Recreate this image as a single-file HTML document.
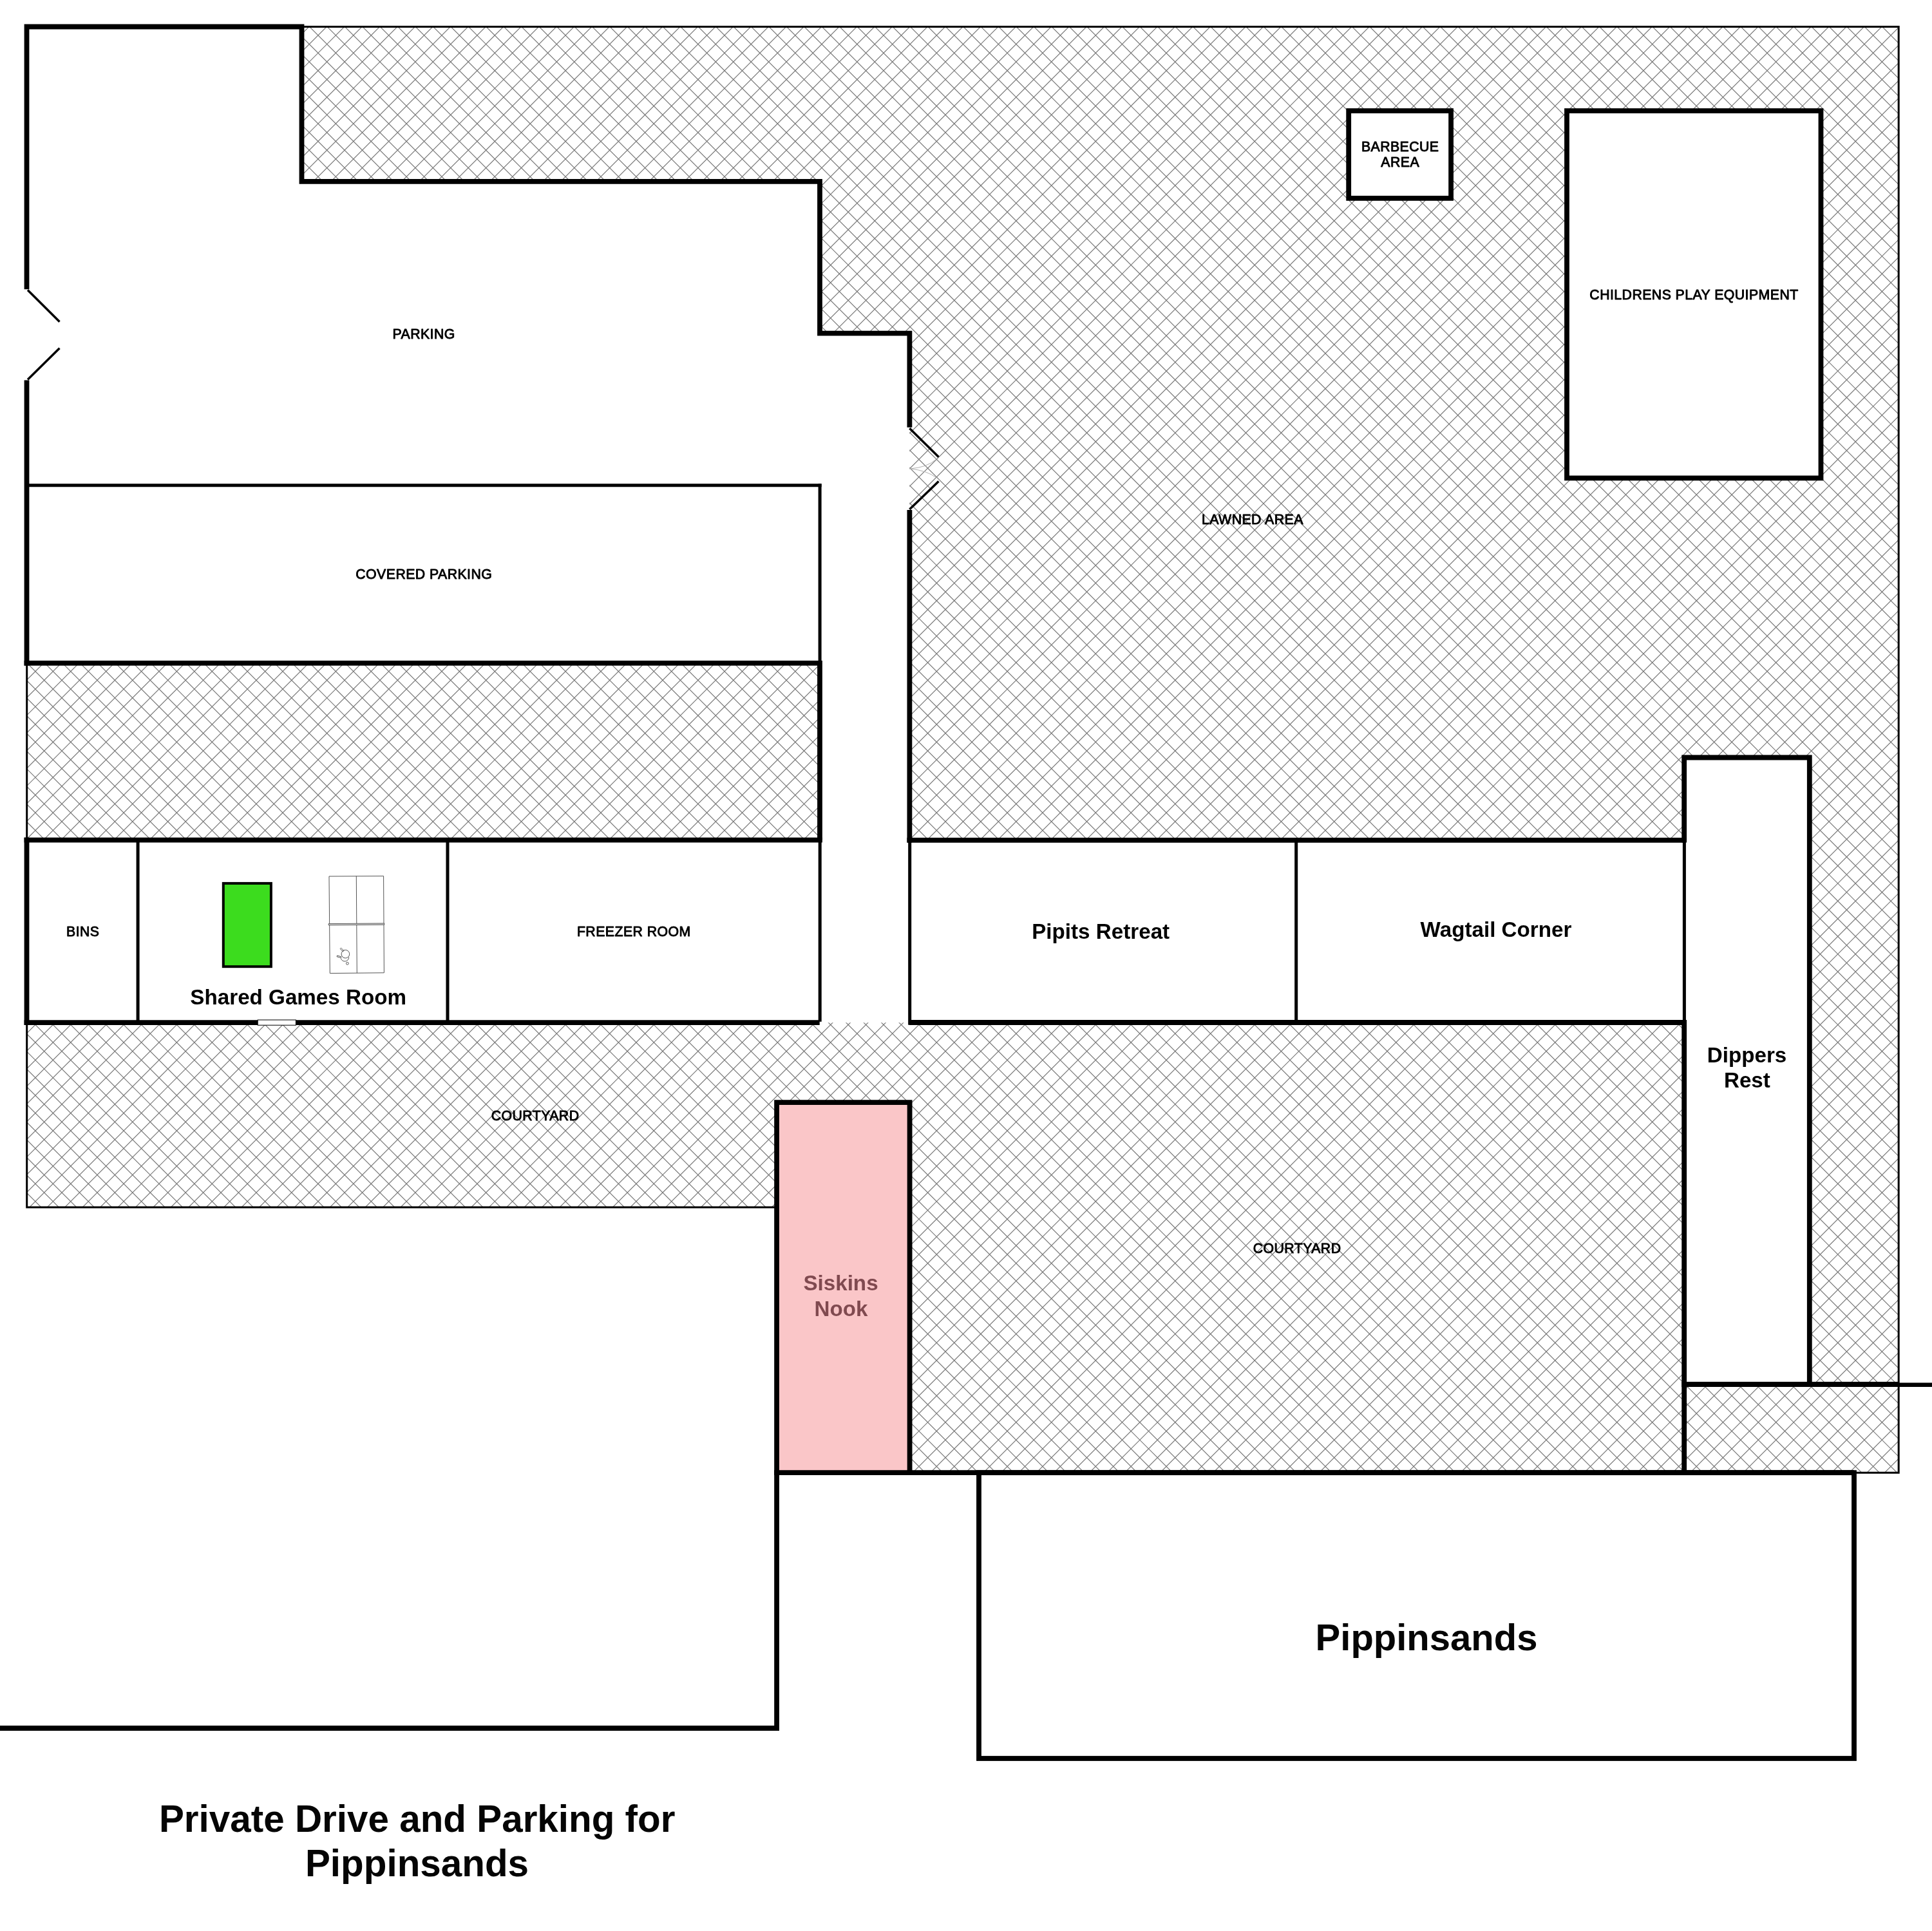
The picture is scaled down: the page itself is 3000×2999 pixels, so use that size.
<!DOCTYPE html>
<html lang="en"><head><meta charset="utf-8"><title>Site plan</title>
<style>html,body{margin:0;padding:0;background:#fff}svg{display:block}text{font-family:"Liberation Sans",sans-serif;fill:#000;text-anchor:middle}.s{font-size:21.3px;letter-spacing:.43px;stroke:#000;stroke-width:.9px;stroke-linejoin:round}.b{font-size:33.2px;font-weight:bold}.h{font-size:58px;font-weight:bold;fill:#04040c}.w8{stroke:#000;stroke-width:7.8;fill:none;stroke-linecap:butt;stroke-linejoin:miter}.w5{stroke:#000;stroke-width:5;fill:none}.w4{stroke:#000;stroke-width:3.5;fill:none}.w3{stroke:#000;stroke-width:3;fill:none}</style></head><body>
<svg width="3000" height="2999" viewBox="0 0 3000 2999">
<rect width="3000" height="2999" fill="#fff"/>
<defs><clipPath id="hc">
<polygon points="468.5,41.5 2948.2,41.5 2948.2,2287.2 1412.4,2287.2 1412.4,1712.2 1206.1,1712.2 1206.1,1875.0 41.7,1875.0 41.7,1588.2 2615.2,1588.2 2615.2,2150.0 2809.8,2150.0 2809.8,1176.5 2615.2,1176.5 2615.2,1304.6 1412.4,1304.6 1412.4,517.6 1273.0,517.6 1273.0,281.8 468.5,281.8"/>
<polygon points="41.7,1029.8 1273.0,1029.8 1273.0,1304.6 41.7,1304.6"/>
</clipPath></defs>
<g clip-path="url(#hc)" stroke="#7a7a7a" stroke-width="1.2" fill="none"><path d="M0.00 0.00L0.00 0.00M27.44 0.00L0.00 27.44M54.88 0.00L0.00 54.88M82.32 0.00L0.00 82.32M109.76 0.00L0.00 109.76M137.20 0.00L0.00 137.20M164.64 0.00L0.00 164.64M192.08 0.00L0.00 192.08M219.52 0.00L0.00 219.52M246.96 0.00L0.00 246.96M274.40 0.00L0.00 274.40M301.84 0.00L0.00 301.84M329.28 0.00L0.00 329.28M356.72 0.00L0.00 356.72M384.16 0.00L0.00 384.16M411.60 0.00L0.00 411.60M439.04 0.00L0.00 439.04M466.48 0.00L0.00 466.48M493.92 0.00L0.00 493.92M521.36 0.00L0.00 521.36M548.80 0.00L0.00 548.80M576.24 0.00L0.00 576.24M603.68 0.00L0.00 603.68M631.12 0.00L0.00 631.12M658.56 0.00L0.00 658.56M686.00 0.00L0.00 686.00M713.44 0.00L0.00 713.44M740.88 0.00L0.00 740.88M768.32 0.00L0.00 768.32M795.76 0.00L0.00 795.76M823.20 0.00L0.00 823.20M850.64 0.00L0.00 850.64M878.08 0.00L0.00 878.08M905.52 0.00L0.00 905.52M932.96 0.00L0.00 932.96M960.40 0.00L0.00 960.40M987.84 0.00L0.00 987.84M1015.28 0.00L0.00 1015.28M1042.72 0.00L0.00 1042.72M1070.16 0.00L0.00 1070.16M1097.60 0.00L0.00 1097.60M1125.04 0.00L0.00 1125.04M1152.48 0.00L0.00 1152.48M1179.92 0.00L0.00 1179.92M1207.36 0.00L0.00 1207.36M1234.80 0.00L0.00 1234.80M1262.24 0.00L0.00 1262.24M1289.68 0.00L0.00 1289.68M1317.12 0.00L0.00 1317.12M1344.56 0.00L0.00 1344.56M1372.00 0.00L0.00 1372.00M1399.44 0.00L0.00 1399.44M1426.88 0.00L0.00 1426.88M1454.32 0.00L0.00 1454.32M1481.76 0.00L0.00 1481.76M1509.20 0.00L0.00 1509.20M1536.64 0.00L0.00 1536.64M1564.08 0.00L0.00 1564.08M1591.52 0.00L0.00 1591.52M1618.96 0.00L0.00 1618.96M1646.40 0.00L0.00 1646.40M1673.84 0.00L0.00 1673.84M1701.28 0.00L0.00 1701.28M1728.72 0.00L0.00 1728.72M1756.16 0.00L0.00 1756.16M1783.60 0.00L0.00 1783.60M1811.04 0.00L0.00 1811.04M1838.48 0.00L0.00 1838.48M1865.92 0.00L0.00 1865.92M1893.36 0.00L0.00 1893.36M1920.80 0.00L0.00 1920.80M1948.24 0.00L0.00 1948.24M1975.68 0.00L0.00 1975.68M2003.12 0.00L0.00 2003.12M2030.56 0.00L0.00 2030.56M2058.00 0.00L0.00 2058.00M2085.44 0.00L0.00 2085.44M2112.88 0.00L0.00 2112.88M2140.32 0.00L0.00 2140.32M2167.76 0.00L0.00 2167.76M2195.20 0.00L0.00 2195.20M2222.64 0.00L0.00 2222.64M2250.08 0.00L0.00 2250.08M2277.52 0.00L0.00 2277.52M2304.96 0.00L0.00 2304.96M2332.40 0.00L0.00 2332.40M2359.84 0.00L0.00 2359.84M2387.28 0.00L0.00 2387.28M2414.72 0.00L0.00 2414.72M2442.16 0.00L0.00 2442.16M2469.60 0.00L0.00 2469.60M2497.04 0.00L0.00 2497.04M2524.48 0.00L0.00 2524.48M2551.92 0.00L0.00 2551.92M2579.36 0.00L0.00 2579.36M2606.80 0.00L0.00 2606.80M2634.24 0.00L0.00 2634.24M2661.68 0.00L0.00 2661.68M2689.12 0.00L0.00 2689.12M2716.56 0.00L0.00 2716.56M2744.00 0.00L0.00 2744.00M2771.44 0.00L0.00 2771.44M2798.88 0.00L0.00 2798.88M2826.32 0.00L0.00 2826.32M2853.76 0.00L0.00 2853.76M2881.20 0.00L0.00 2881.20M2908.64 0.00L0.00 2908.64M2936.08 0.00L0.00 2936.08M2963.52 0.00L0.00 2963.52M2990.96 0.00L0.00 2990.96M3000.00 18.40L19.40 2999.00M3000.00 45.84L46.84 2999.00M3000.00 73.28L74.28 2999.00M3000.00 100.72L101.72 2999.00M3000.00 128.16L129.16 2999.00M3000.00 155.60L156.60 2999.00M3000.00 183.04L184.04 2999.00M3000.00 210.48L211.48 2999.00M3000.00 237.92L238.92 2999.00M3000.00 265.36L266.36 2999.00M3000.00 292.80L293.80 2999.00M3000.00 320.24L321.24 2999.00M3000.00 347.68L348.68 2999.00M3000.00 375.12L376.12 2999.00M3000.00 402.56L403.56 2999.00M3000.00 430.00L431.00 2999.00M3000.00 457.44L458.44 2999.00M3000.00 484.88L485.88 2999.00M3000.00 512.32L513.32 2999.00M3000.00 539.76L540.76 2999.00M3000.00 567.20L568.20 2999.00M3000.00 594.64L595.64 2999.00M3000.00 622.08L623.08 2999.00M3000.00 649.52L650.52 2999.00M3000.00 676.96L677.96 2999.00M3000.00 704.40L705.40 2999.00M3000.00 731.84L732.84 2999.00M3000.00 759.28L760.28 2999.00M3000.00 786.72L787.72 2999.00M3000.00 814.16L815.16 2999.00M3000.00 841.60L842.60 2999.00M3000.00 869.04L870.04 2999.00M3000.00 896.48L897.48 2999.00M3000.00 923.92L924.92 2999.00M3000.00 951.36L952.36 2999.00M3000.00 978.80L979.80 2999.00M3000.00 1006.24L1007.24 2999.00M3000.00 1033.68L1034.68 2999.00M3000.00 1061.12L1062.12 2999.00M3000.00 1088.56L1089.56 2999.00M3000.00 1116.00L1117.00 2999.00M3000.00 1143.44L1144.44 2999.00M3000.00 1170.88L1171.88 2999.00M3000.00 1198.32L1199.32 2999.00M3000.00 1225.76L1226.76 2999.00M3000.00 1253.20L1254.20 2999.00M3000.00 1280.64L1281.64 2999.00M3000.00 1308.08L1309.08 2999.00M3000.00 1335.52L1336.52 2999.00M3000.00 1362.96L1363.96 2999.00M3000.00 1390.40L1391.40 2999.00M3000.00 1417.84L1418.84 2999.00M3000.00 1445.28L1446.28 2999.00M3000.00 1472.72L1473.72 2999.00M3000.00 1500.16L1501.16 2999.00M3000.00 1527.60L1528.60 2999.00M3000.00 1555.04L1556.04 2999.00M3000.00 1582.48L1583.48 2999.00M3000.00 1609.92L1610.92 2999.00M3000.00 1637.36L1638.36 2999.00M3000.00 1664.80L1665.80 2999.00M3000.00 1692.24L1693.24 2999.00M3000.00 1719.68L1720.68 2999.00M3000.00 1747.12L1748.12 2999.00M3000.00 1774.56L1775.56 2999.00M3000.00 1802.00L1803.00 2999.00M3000.00 1829.44L1830.44 2999.00M3000.00 1856.88L1857.88 2999.00M3000.00 1884.32L1885.32 2999.00M3000.00 1911.76L1912.76 2999.00M3000.00 1939.20L1940.20 2999.00M3000.00 1966.64L1967.64 2999.00M3000.00 1994.08L1995.08 2999.00M3000.00 2021.52L2022.52 2999.00M3000.00 2048.96L2049.96 2999.00M3000.00 2076.40L2077.40 2999.00M3000.00 2103.84L2104.84 2999.00M3000.00 2131.28L2132.28 2999.00M3000.00 2158.72L2159.72 2999.00M3000.00 2186.16L2187.16 2999.00M3000.00 2213.60L2214.60 2999.00M3000.00 2241.04L2242.04 2999.00M3000.00 2268.48L2269.48 2999.00M3000.00 2295.92L2296.92 2999.00M3000.00 2323.36L2324.36 2999.00M3000.00 2350.80L2351.80 2999.00M3000.00 2378.24L2379.24 2999.00M3000.00 2405.68L2406.68 2999.00M3000.00 2433.12L2434.12 2999.00M3000.00 2460.56L2461.56 2999.00M3000.00 2488.00L2489.00 2999.00M3000.00 2515.44L2516.44 2999.00M3000.00 2542.88L2543.88 2999.00M3000.00 2570.32L2571.32 2999.00M3000.00 2597.76L2598.76 2999.00M3000.00 2625.20L2626.20 2999.00M3000.00 2652.64L2653.64 2999.00M3000.00 2680.08L2681.08 2999.00M3000.00 2707.52L2708.52 2999.00M3000.00 2734.96L2735.96 2999.00M3000.00 2762.40L2763.40 2999.00M3000.00 2789.84L2790.84 2999.00M3000.00 2817.28L2818.28 2999.00M3000.00 2844.72L2845.72 2999.00M3000.00 2872.16L2873.16 2999.00M3000.00 2899.60L2900.60 2999.00M3000.00 2927.04L2928.04 2999.00M3000.00 2954.48L2955.48 2999.00M3000.00 2981.92L2982.92 2999.00"/><path d="M0.00 2990.96L8.04 2999.00M0.00 2963.52L35.48 2999.00M0.00 2936.08L62.92 2999.00M0.00 2908.64L90.36 2999.00M0.00 2881.20L117.80 2999.00M0.00 2853.76L145.24 2999.00M0.00 2826.32L172.68 2999.00M0.00 2798.88L200.12 2999.00M0.00 2771.44L227.56 2999.00M0.00 2744.00L255.00 2999.00M0.00 2716.56L282.44 2999.00M0.00 2689.12L309.88 2999.00M0.00 2661.68L337.32 2999.00M0.00 2634.24L364.76 2999.00M0.00 2606.80L392.20 2999.00M0.00 2579.36L419.64 2999.00M0.00 2551.92L447.08 2999.00M0.00 2524.48L474.52 2999.00M0.00 2497.04L501.96 2999.00M0.00 2469.60L529.40 2999.00M0.00 2442.16L556.84 2999.00M0.00 2414.72L584.28 2999.00M0.00 2387.28L611.72 2999.00M0.00 2359.84L639.16 2999.00M0.00 2332.40L666.60 2999.00M0.00 2304.96L694.04 2999.00M0.00 2277.52L721.48 2999.00M0.00 2250.08L748.92 2999.00M0.00 2222.64L776.36 2999.00M0.00 2195.20L803.80 2999.00M0.00 2167.76L831.24 2999.00M0.00 2140.32L858.68 2999.00M0.00 2112.88L886.12 2999.00M0.00 2085.44L913.56 2999.00M0.00 2058.00L941.00 2999.00M0.00 2030.56L968.44 2999.00M0.00 2003.12L995.88 2999.00M0.00 1975.68L1023.32 2999.00M0.00 1948.24L1050.76 2999.00M0.00 1920.80L1078.20 2999.00M0.00 1893.36L1105.64 2999.00M0.00 1865.92L1133.08 2999.00M0.00 1838.48L1160.52 2999.00M0.00 1811.04L1187.96 2999.00M0.00 1783.60L1215.40 2999.00M0.00 1756.16L1242.84 2999.00M0.00 1728.72L1270.28 2999.00M0.00 1701.28L1297.72 2999.00M0.00 1673.84L1325.16 2999.00M0.00 1646.40L1352.60 2999.00M0.00 1618.96L1380.04 2999.00M0.00 1591.52L1407.48 2999.00M0.00 1564.08L1434.92 2999.00M0.00 1536.64L1462.36 2999.00M0.00 1509.20L1489.80 2999.00M0.00 1481.76L1517.24 2999.00M0.00 1454.32L1544.68 2999.00M0.00 1426.88L1572.12 2999.00M0.00 1399.44L1599.56 2999.00M0.00 1372.00L1627.00 2999.00M0.00 1344.56L1654.44 2999.00M0.00 1317.12L1681.88 2999.00M0.00 1289.68L1709.32 2999.00M0.00 1262.24L1736.76 2999.00M0.00 1234.80L1764.20 2999.00M0.00 1207.36L1791.64 2999.00M0.00 1179.92L1819.08 2999.00M0.00 1152.48L1846.52 2999.00M0.00 1125.04L1873.96 2999.00M0.00 1097.60L1901.40 2999.00M0.00 1070.16L1928.84 2999.00M0.00 1042.72L1956.28 2999.00M0.00 1015.28L1983.72 2999.00M0.00 987.84L2011.16 2999.00M0.00 960.40L2038.60 2999.00M0.00 932.96L2066.04 2999.00M0.00 905.52L2093.48 2999.00M0.00 878.08L2120.92 2999.00M0.00 850.64L2148.36 2999.00M0.00 823.20L2175.80 2999.00M0.00 795.76L2203.24 2999.00M0.00 768.32L2230.68 2999.00M0.00 740.88L2258.12 2999.00M0.00 713.44L2285.56 2999.00M0.00 686.00L2313.00 2999.00M0.00 658.56L2340.44 2999.00M0.00 631.12L2367.88 2999.00M0.00 603.68L2395.32 2999.00M0.00 576.24L2422.76 2999.00M0.00 548.80L2450.20 2999.00M0.00 521.36L2477.64 2999.00M0.00 493.92L2505.08 2999.00M0.00 466.48L2532.52 2999.00M0.00 439.04L2559.96 2999.00M0.00 411.60L2587.40 2999.00M0.00 384.16L2614.84 2999.00M0.00 356.72L2642.28 2999.00M0.00 329.28L2669.72 2999.00M0.00 301.84L2697.16 2999.00M0.00 274.40L2724.60 2999.00M0.00 246.96L2752.04 2999.00M0.00 219.52L2779.48 2999.00M0.00 192.08L2806.92 2999.00M0.00 164.64L2834.36 2999.00M0.00 137.20L2861.80 2999.00M0.00 109.76L2889.24 2999.00M0.00 82.32L2916.68 2999.00M0.00 54.88L2944.12 2999.00M0.00 27.44L2971.56 2999.00M0.00 0.00L2999.00 2999.00M27.44 0.00L3000.00 2972.56M54.88 0.00L3000.00 2945.12M82.32 0.00L3000.00 2917.68M109.76 0.00L3000.00 2890.24M137.20 0.00L3000.00 2862.80M164.64 0.00L3000.00 2835.36M192.08 0.00L3000.00 2807.92M219.52 0.00L3000.00 2780.48M246.96 0.00L3000.00 2753.04M274.40 0.00L3000.00 2725.60M301.84 0.00L3000.00 2698.16M329.28 0.00L3000.00 2670.72M356.72 0.00L3000.00 2643.28M384.16 0.00L3000.00 2615.84M411.60 0.00L3000.00 2588.40M439.04 0.00L3000.00 2560.96M466.48 0.00L3000.00 2533.52M493.92 0.00L3000.00 2506.08M521.36 0.00L3000.00 2478.64M548.80 0.00L3000.00 2451.20M576.24 0.00L3000.00 2423.76M603.68 0.00L3000.00 2396.32M631.12 0.00L3000.00 2368.88M658.56 0.00L3000.00 2341.44M686.00 0.00L3000.00 2314.00M713.44 0.00L3000.00 2286.56M740.88 0.00L3000.00 2259.12M768.32 0.00L3000.00 2231.68M795.76 0.00L3000.00 2204.24M823.20 0.00L3000.00 2176.80M850.64 0.00L3000.00 2149.36M878.08 0.00L3000.00 2121.92M905.52 0.00L3000.00 2094.48M932.96 0.00L3000.00 2067.04M960.40 0.00L3000.00 2039.60M987.84 0.00L3000.00 2012.16M1015.28 0.00L3000.00 1984.72M1042.72 0.00L3000.00 1957.28M1070.16 0.00L3000.00 1929.84M1097.60 0.00L3000.00 1902.40M1125.04 0.00L3000.00 1874.96M1152.48 0.00L3000.00 1847.52M1179.92 0.00L3000.00 1820.08M1207.36 0.00L3000.00 1792.64M1234.80 0.00L3000.00 1765.20M1262.24 0.00L3000.00 1737.76M1289.68 0.00L3000.00 1710.32M1317.12 0.00L3000.00 1682.88M1344.56 0.00L3000.00 1655.44M1372.00 0.00L3000.00 1628.00M1399.44 0.00L3000.00 1600.56M1426.88 0.00L3000.00 1573.12M1454.32 0.00L3000.00 1545.68M1481.76 0.00L3000.00 1518.24M1509.20 0.00L3000.00 1490.80M1536.64 0.00L3000.00 1463.36M1564.08 0.00L3000.00 1435.92M1591.52 0.00L3000.00 1408.48M1618.96 0.00L3000.00 1381.04M1646.40 0.00L3000.00 1353.60M1673.84 0.00L3000.00 1326.16M1701.28 0.00L3000.00 1298.72M1728.72 0.00L3000.00 1271.28M1756.16 0.00L3000.00 1243.84M1783.60 0.00L3000.00 1216.40M1811.04 0.00L3000.00 1188.96M1838.48 0.00L3000.00 1161.52M1865.92 0.00L3000.00 1134.08M1893.36 0.00L3000.00 1106.64M1920.80 0.00L3000.00 1079.20M1948.24 0.00L3000.00 1051.76M1975.68 0.00L3000.00 1024.32M2003.12 0.00L3000.00 996.88M2030.56 0.00L3000.00 969.44M2058.00 0.00L3000.00 942.00M2085.44 0.00L3000.00 914.56M2112.88 0.00L3000.00 887.12M2140.32 0.00L3000.00 859.68M2167.76 0.00L3000.00 832.24M2195.20 0.00L3000.00 804.80M2222.64 0.00L3000.00 777.36M2250.08 0.00L3000.00 749.92M2277.52 0.00L3000.00 722.48M2304.96 0.00L3000.00 695.04M2332.40 0.00L3000.00 667.60M2359.84 0.00L3000.00 640.16M2387.28 0.00L3000.00 612.72M2414.72 0.00L3000.00 585.28M2442.16 0.00L3000.00 557.84M2469.60 0.00L3000.00 530.40M2497.04 0.00L3000.00 502.96M2524.48 0.00L3000.00 475.52M2551.92 0.00L3000.00 448.08M2579.36 0.00L3000.00 420.64M2606.80 0.00L3000.00 393.20M2634.24 0.00L3000.00 365.76M2661.68 0.00L3000.00 338.32M2689.12 0.00L3000.00 310.88M2716.56 0.00L3000.00 283.44M2744.00 0.00L3000.00 256.00M2771.44 0.00L3000.00 228.56M2798.88 0.00L3000.00 201.12M2826.32 0.00L3000.00 173.68M2853.76 0.00L3000.00 146.24M2881.20 0.00L3000.00 118.80M2908.64 0.00L3000.00 91.36M2936.08 0.00L3000.00 63.92M2963.52 0.00L3000.00 36.48M2990.96 0.00L3000.00 9.04"/></g>
<rect x="1206.1" y="1712.2" width="206.3" height="575.0" fill="#fac6c8"/>
<path class="w3" d="M468.5 41.5H2948.2V2287.2H2879"/>
<path class="w3" d="M41.7 1029.8V1304.6"/>
<path class="w3" d="M41.7 1588.2V1875.0H1206.1"/>
<path class="w8" d="M41.5 449.3V41.5H468.5V281.8H1273.0V517.6H1412.4V663.7"/>
<path class="w8" d="M1412.4 792.1V1308.5"/>
<path class="w8" d="M41.5 590.4V1033.7"/>
<path class="w8" d="M41.5 1300.6999999999998V1592.1000000000001"/>
<path class="w5" d="M44.5 753.8H1275.6"/>
<path class="w5" d="M1273.1 751.3V1029.8"/>
<path class="w8" d="M37.6 1029.8H1273.0V1304.6"/>
<path class="w8" d="M37.6 1304.6H1276.9"/>
<path class="w8" d="M37.6 1588.2H1272.7"/>
<path class="w5" d="M214.1 1304.6V1588.2M695 1304.6V1588.2M1273.2 1304.6V1586.7"/>
<path class="w8" d="M1408.5 1304.8H2615.2"/>
<path class="w8" d="M1412.1000000000001 1588.0H2619.0"/>
<path class="w5" d="M1412.7 1304.6V1591.8M2012.7 1304.6V1588.2M2615.3999999999996 1304.6V1588.2"/>
<path class="w8" d="M2615.2 1308.6V1176.5H2809.8V2150.0"/>
<path class="w8" d="M2615.2 1584.4V2287.2"/>
<path class="w8" d="M2611.2999999999997 2150.0H2948.2"/>
<path d="M2948.2 2150.7H3000" stroke="#000" stroke-width="6.4" fill="none"/>
<path class="w8" d="M0 2684H1206.1V1712.2H1412.6000000000001V2287.2"/>
<path class="w8" d="M1202.1999999999998 2287.2H2879"/>
<rect class="w8" x="1520" y="2287.2" width="1359" height="443.8"/>
<rect class="w8" x="2094.2" y="172.1" width="158.9" height="135.8" fill="#fff" style="fill:#fff"/>
<rect class="w8" x="2433" y="172.1" width="394.5" height="570.4" fill="#fff" style="fill:#fff"/>
<path class="w4" d="M43 450.6L92.5 499.8M92.5 540.7L43 589.4"/>
<path class="w4" d="M1412.4 665.2L1457.5 709.8M1457.5 747.6L1412.4 791.1"/>
<path d="M1454 713Q1440 726 1413.4 727.9Q1440 731 1454 742" stroke="#b0b0b0" stroke-width="1" fill="none"/>
<rect x="400.2" y="1584" width="59.2" height="8.2" fill="#fff" stroke="#000" stroke-width="1"/>
<rect x="346.8" y="1371.9" width="74.1" height="129.3" fill="#3cdc1e" stroke="#000" stroke-width="4"/>
<g stroke="#555" stroke-width="1" fill="none">
<path d="M511 1361L595.6 1360.6L596.4 1510.8L512.3 1511.6Z"/>
<path d="M553.3 1360.6L554.3 1511.2"/>
<path d="M510.2 1434.6L596.8 1434L596.8 1436.2L510.2 1436.8Z" fill="#ddd"/>
<circle cx="536.4" cy="1481.7" r="6.3"/>
<path d="M528.2 1473.5L529.6 1472.2L533.9 1476.6L532.5 1477.9Z"/>
<path d="M529.3 1488.3A6.3 6.3 0 0 0 541.7 1486.6"/>
<path d="M523.6 1484L529.9 1485.8L529.4 1487.6L523.1 1485.8Z"/>
<circle cx="539.4" cy="1496.3" r="1.9"/>
</g>
<g style="filter:grayscale(1)">
<text class="s" x="658.1" y="526">PARKING</text>
<text class="s" x="658.3" y="899">COVERED PARKING</text>
<text class="s" x="1944.9" y="814.4">LAWNED AREA</text>
<text class="s" x="2174.2" y="235.0">BARBECUE</text>
<text class="s" x="2174.2" y="259.2">AREA</text>
<text class="s" x="2630.5" y="465.2">CHILDRENS PLAY EQUIPMENT</text>
<text class="s" x="128.8" y="1454.4">BINS</text>
<text class="s" x="984.3" y="1454.4">FREEZER ROOM</text>
<text class="s" x="831.1" y="1740.2">COURTYARD</text>
<text class="s" x="2014.1" y="1945.5">COURTYARD</text>
<text class="b" x="463.2" y="1560">Shared Games Room</text>
<text class="b" x="1709.2" y="1458">Pipits Retreat</text>
<text class="b" x="2323" y="1454.7">Wagtail Corner</text>
<text class="b" x="2712.5" y="1649.7">Dippers</text>
<text class="b" x="2712.9" y="1689.4">Rest</text>
<text class="h" x="2215.0" y="2562.9">Pippinsands</text>
<text class="h" x="647.7" y="2844.8" style="font-size:58.4px">Private Drive and Parking for</text>
<text class="h" x="647.5" y="2914.4" style="font-size:58.4px">Pippinsands</text>
</g>
<g style="opacity:.996">
<text class="b" x="1305.5" y="2004" style="fill:#804a50">Siskins</text>
<text class="b" x="1306.1" y="2044" style="fill:#804a50">Nook</text>
</g>
</svg></body></html>
